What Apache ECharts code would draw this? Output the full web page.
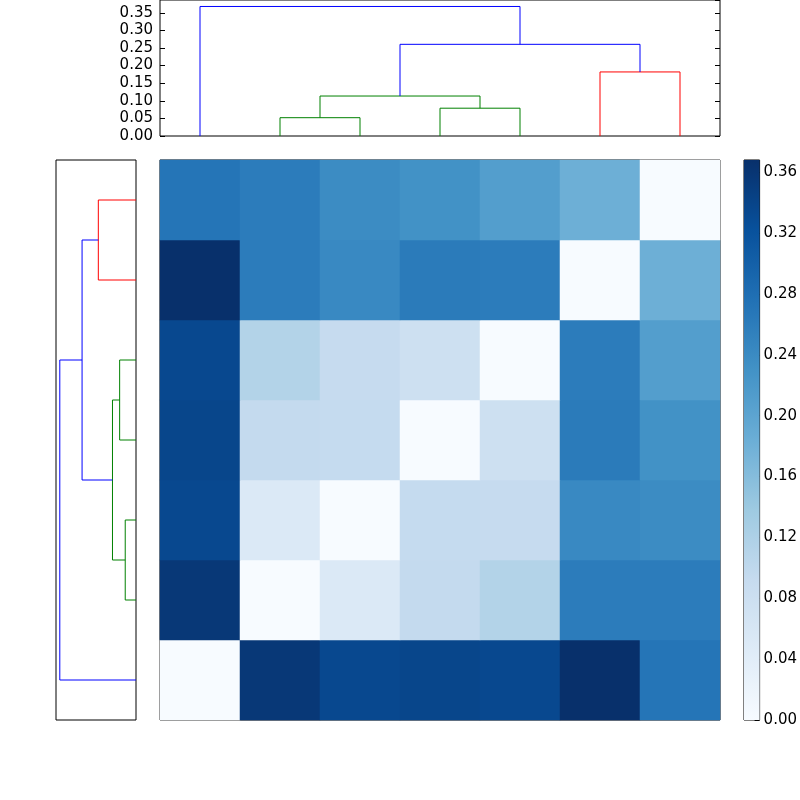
<!DOCTYPE html>
<html>
<head>
<meta charset="utf-8">
<script src="https://cdn.jsdelivr.net/npm/echarts@6/dist/echarts.min.js"></script>
<style>
  html, body { margin: 0; padding: 0; background: #fff; }
  #main { width: 800px; height: 800px; }
</style>
</head>
<body>
<div id="main"></div>
<script>
// distance matrix, leaves in dendrogram order (leaf 0 = left / bottom)
const dist0 = [0, 0.357, 0.334, 0.338, 0.334, 0.368, 0.270];
const dist1 = [0.357, 0, 0.052, 0.094, 0.114, 0.260, 0.260];
const dist2 = [0.334, 0.052, 0, 0.093, 0.092, 0.242, 0.238];
const dist3 = [0.338, 0.094, 0.093, 0, 0.079, 0.262, 0.230];
const dist4 = [0.334, 0.114, 0.092, 0.079, 0, 0.260, 0.211];
const dist5 = [0.368, 0.260, 0.242, 0.262, 0.260, 0, 0.182];
const dist6 = [0.270, 0.260, 0.238, 0.230, 0.211, 0.182, 0];
const dist = [dist0, dist1, dist2, dist3, dist4, dist5, dist6];

// linkage: cluster mergeA[k] + mergeB[k] -> new cluster 7+k at height mergeH[k]
const mergeA = [1, 3, 7, 5, 9, 0];
const mergeB = [2, 4, 8, 6, 10, 11];
const mergeH = [0.052, 0.079, 0.1136, 0.182, 0.2605, 0.368];

const nLeaves = dist.length;
const vmax = 0.368;
const dendroMax = Math.max(...mergeH) * 1.05;

// matplotlib Blues
const blues = ['#f7fbff', '#deebf7', '#c6dbef', '#9ecae1', '#6baed6', '#4292c6', '#2171b5', '#08519c', '#08306b'];

// build nodes (scipy style coordinates: leaf i at 5 + 10 i)
let nodes = [];
for (let i = 0; i < nLeaves; i++) nodes.push({ x: 5 + 10 * i, h: 0 });
mergeA.forEach((a, k) => {
    let b = mergeB[k];
    nodes.push({ x: (nodes[a].x + nodes[b].x) / 2, h: mergeH[k], a: a, b: b });
});

// colour like scipy: below 0.7*max each cluster gets own colour, above is blue
const threshold = 0.7 * Math.max(...mergeH);
const palette = ['#008000', '#ff0000', '#00bfbf', '#bf00bf'];
let nextCol = 0;
let linkColor = {};
function paint(id, col) {
    if (id < nLeaves) return;
    let c = col;
    if (!c && nodes[id].h < threshold) c = palette[nextCol++ % palette.length];
    linkColor[id] = c || '#0000ff';
    paint(nodes[id].a, c);
    paint(nodes[id].b, c);
}
paint(nodes.length - 1, null);

let series = [];
for (let id = nLeaves; id < nodes.length; id++) {
    let n = nodes[id], A = nodes[n.a], B = nodes[n.b];
    let pts = [[A.x, A.h], [A.x, n.h], [B.x, n.h], [B.x, B.h]];
    // top dendrogram
    series.push({
        type: 'line', xAxisIndex: 0, yAxisIndex: 0, data: pts,
        symbol: 'none', silent: true,
        lineStyle: { color: linkColor[id], width: 1 }
    });
    // left dendrogram (rotated)
    series.push({
        type: 'line', xAxisIndex: 1, yAxisIndex: 2, data: pts.map(p => [p[1], p[0]]),
        symbol: 'none', silent: true,
        lineStyle: { color: linkColor[id], width: 1 }
    });
}

let cells = [];
for (let r = 0; r < nLeaves; r++)
    for (let c = 0; c < nLeaves; c++)
        cells.push([c, r, dist[r][c]]);

const heatIndex = series.length;
series.push({
    type: 'heatmap', xAxisIndex: 2, yAxisIndex: 3, data: cells,
    itemStyle: { borderWidth: 0 }, silent: true
});

// colorbar
let stops = blues.map((c, i) => ({ offset: 1 - i / (blues.length - 1), color: c }));
series.push({
    type: 'bar', xAxisIndex: 3, yAxisIndex: 4, data: [vmax],
    barWidth: '100%', silent: true,
    itemStyle: { color: new echarts.graphic.LinearGradient(0, 0, 0, 1, stops) }
});

const font = { fontFamily: 'DejaVu Sans', fontSize: 15, color: '#000' };
const frame = { show: true, borderColor: '#000', borderWidth: 1, backgroundColor: '#fff' };
const categories = Array.from({ length: nLeaves }, (_, i) => String(i));

let mycharts = echarts.init(document.getElementById('main'));
const option = {
    animation: false,
    backgroundColor: '#fff',
    grid: [
        Object.assign({ left: 160, top: 0, width: 560, height: 136 }, frame),
        Object.assign({ left: 56, top: 160, width: 80, height: 560 }, frame),
        Object.assign({ left: 160, top: 160, width: 560, height: 560 }, frame),
        Object.assign({ left: 744, top: 160, width: 16, height: 560 }, frame)
    ],
    xAxis: [
        { gridIndex: 0, type: 'value', min: 0, max: 10 * nLeaves, show: false },
        { gridIndex: 1, type: 'value', min: 0, max: dendroMax, inverse: true, show: false },
        { gridIndex: 2, type: 'category', data: categories, show: false },
        { gridIndex: 3, type: 'category', data: ['cb'], show: false }
    ],
    yAxis: [
        {
            gridIndex: 0, type: 'value', min: 0, max: dendroMax, interval: 0.05,
            axisLine: { show: false }, splitLine: { show: false },
            axisTick: { show: true, inside: true, length: 5, lineStyle: { color: '#000' } },
            axisLabel: Object.assign({ margin: 7, showMaxLabel: false, formatter: v => v.toFixed(2) }, font)
        },
        {
            gridIndex: 0, type: 'value', position: 'right', min: 0, max: dendroMax, interval: 0.05,
            axisLine: { show: false }, splitLine: { show: false },
            axisTick: { show: true, inside: true, length: 5, lineStyle: { color: '#000' } },
            axisLabel: { show: false }
        },
        { gridIndex: 1, type: 'value', min: 0, max: 10 * nLeaves, show: false },
        { gridIndex: 2, type: 'category', data: categories, show: false },
        {
            gridIndex: 3, type: 'value', position: 'right', min: 0, max: vmax, interval: 0.04,
            axisLine: { show: false }, splitLine: { show: false },
            axisTick: { show: true, inside: true, length: 5, lineStyle: { color: '#000' } },
            axisLabel: Object.assign({ margin: 4, showMaxLabel: false, formatter: v => v.toFixed(2) }, font)
        }
    ],
    visualMap: {
        show: false, type: 'continuous', seriesIndex: heatIndex,
        min: 0, max: vmax, inRange: { color: blues }
    },
    series: series
};
mycharts.setOption(option);
</script>
</body>
</html>
